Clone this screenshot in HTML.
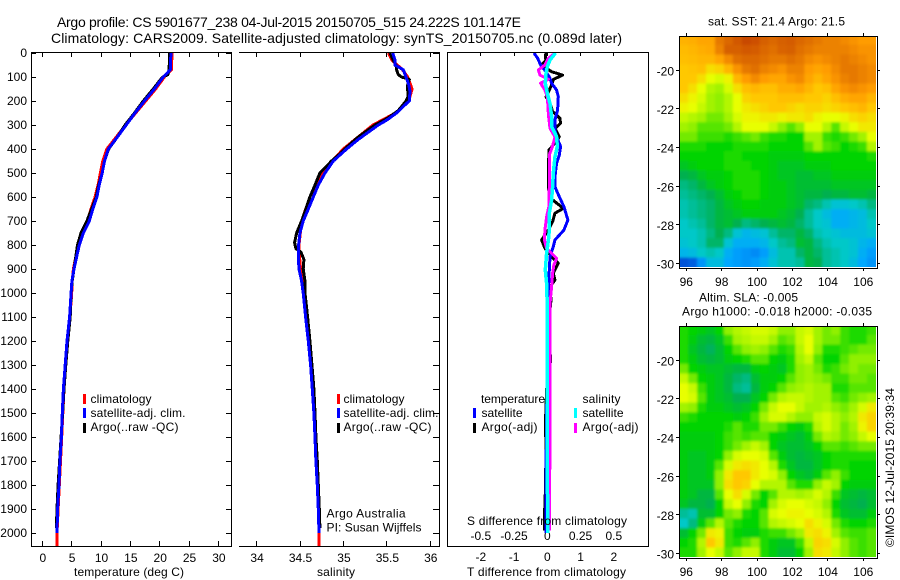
<!DOCTYPE html>
<html lang="en">
<head>
<meta charset="utf-8">
<title>Argo profile chart</title>
<style>
html,body{margin:0;padding:0;background:#fff;}
svg{display:block;}
text{font-family:"Liberation Sans",sans-serif;font-size:12px;fill:#000;}
.t14{font-size:14px;}
</style>
</head>
<body>
<svg id="chart" xmlns="http://www.w3.org/2000/svg" width="900" height="580" viewBox="0 0 900 580">
<defs>
<clipPath id="clipA"><rect x="32" y="53" width="199" height="493"/></clipPath>
<clipPath id="clipB"><rect x="239" y="53" width="200" height="493"/></clipPath>
<clipPath id="clipC"><rect x="448" y="53" width="200" height="493"/></clipPath>
<clipPath id="clipM1"><rect x="680" y="36" width="196" height="231"/></clipPath>
<clipPath id="clipM2"><rect x="680" y="326" width="196" height="231"/></clipPath>
<filter id="soft" x="-5%" y="-5%" width="110%" height="110%"><feGaussianBlur stdDeviation="1.2"/></filter>
</defs>
<g id="layer"></g>
<text class="t14" x="57" y="27" textLength="464" lengthAdjust="spacing">Argo profile: CS 5901677_238 04-Jul-2015 20150705_515 24.222S 101.147E</text>
<text class="t14" x="51" y="43" textLength="571" lengthAdjust="spacing">Climatology: CARS2009. Satellite-adjusted climatology: synTS_20150705.nc (0.089d later)</text>
<text x="74" y="576" textLength="110" lengthAdjust="spacing">temperature (deg C)</text>
<text x="317" y="576" textLength="38" lengthAdjust="spacing">salinity</text>
<text x="467" y="576" textLength="159" lengthAdjust="spacing">T difference from climatology</text>
<text x="467" y="525" textLength="160" lengthAdjust="spacing">S difference from climatology</text>

<g>
<rect x="83" y="394" width="3" height="10" fill="#ff0000"/>
<text x="90.5" y="403" textLength="61" lengthAdjust="spacing">climatology</text>
<rect x="83" y="408" width="3" height="10" fill="#0000ff"/>
<text x="90.5" y="417" textLength="95" lengthAdjust="spacing">satellite-adj. clim.</text>
<rect x="83" y="423" width="3" height="10" fill="#000"/>
<text x="90.5" y="431" textLength="88" lengthAdjust="spacing">Argo(..raw -QC)</text>
</g>
<g>
<rect x="337" y="394" width="3" height="10" fill="#ff0000"/>
<text x="343.5" y="403" textLength="61" lengthAdjust="spacing">climatology</text>
<rect x="337" y="408" width="3" height="10" fill="#0000ff"/>
<text x="343.5" y="417" textLength="95" lengthAdjust="spacing">satellite-adj. clim.</text>
<rect x="337" y="423" width="3" height="10" fill="#000"/>
<text x="343.5" y="431" textLength="88" lengthAdjust="spacing">Argo(..raw -QC)</text>
</g>
<text x="326.5" y="517.5" textLength="79" lengthAdjust="spacing">Argo Australia</text>
<text x="326.5" y="531.5" textLength="95" lengthAdjust="spacing">PI: Susan Wijffels</text>

<g>
<text x="481" y="403" textLength="64" lengthAdjust="spacing">temperature</text>
<rect x="473" y="408" width="3" height="10" fill="#0000ff"/>
<text x="481.5" y="417" textLength="41" lengthAdjust="spacing">satellite</text>
<rect x="473" y="423" width="3" height="10" fill="#000"/>
<text x="481.5" y="431" textLength="56" lengthAdjust="spacing">Argo(-adj)</text>
<text x="582.5" y="403" textLength="38" lengthAdjust="spacing">salinity</text>
<rect x="574" y="408" width="3" height="10" fill="#00ffff"/>
<text x="582.5" y="417" textLength="41" lengthAdjust="spacing">satellite</text>
<rect x="574" y="423" width="3" height="10" fill="#ff00ff"/>
<text x="582.5" y="431" textLength="56" lengthAdjust="spacing">Argo(-adj)</text>
</g>

<text x="708" y="25.5" textLength="137" lengthAdjust="spacing">sat. SST: 21.4 Argo: 21.5</text>
<text x="699" y="301.5" textLength="99" lengthAdjust="spacing">Altim. SLA: -0.005</text>
<text x="682" y="315.5" textLength="190" lengthAdjust="spacing">Argo h1000: -0.018 h2000: -0.035</text>
<text transform="translate(894 547) rotate(-90)" textLength="159" lengthAdjust="spacing">©IMOS 12-Jul-2015 20:39:34</text>
</svg>

<script>
// ---- axis tick data ----
const depthTicks = [0,100,200,300,400,500,600,700,800,900,1000,1100,1200,1300,1400,1500,1600,1700,1800,1900,2000];
const tempTicks = [0,5,10,15,20,25,30];
const salTicks = [34,34.5,35,35.5,36];
const salTickLabels = ["34","34.5","35","35.5","36"];
const tDiffTicks = [-2,-1,0,1,2];
const sDiffTicks = [-0.5,-0.25,0,0.25,0.5];
const sDiffTickLabels = ["-0.5","-0.25","0","0.25","0.5"];
const lonTicks = [96,98,100,102,104,106];
const latTicks = [-20,-22,-24,-26,-28,-30];

// ---- temperature profiles ----
const tempClimDepth = [0,70,100,150,200,250,300,350,400,450,500,550,600,650,700,750,800,850,900,950,1000,1100,1200,1300,1400,1500,1600,1700,1800,1900,2000,2055];
const tempClim = [22.1,22.0,20.8,19.3,17.6,15.9,14.2,12.6,11,10.3,9.9,9.5,9,8.3,7.7,7,6.2,5.7,5.3,5.1,5,4.7,4.3,4,3.7,3.5,3.3,3.1,2.9,2.7,2.5,2.5];
const tempArgoDepth = [0,70,90,100,150,200,250,300,350,400,450,500,550,600,650,700,750,800,850,900,950,1000,1100,1200,1300,1400,1500,1600,1700,1800,1900,1980];
const tempArgo = [21.7,21.6,21.4,20.5,18.9,17.2,15.7,14.1,12.8,11.3,10.6,10.2,9.6,9.2,8.4,7.6,6.6,6.0,5.7,5.4,5.1,4.9,4.75,4.35,4.0,3.7,3.45,3.2,2.95,2.7,2.5,2.4];
const tempSatDepth = [0,70,100,150,200,250,300,350,400,450,500,550,600,650,700,750,800,850,900,950,1000,1100,1200,1300,1400,1500,1600,1700,1800,1900,2000];
const tempSat = [21.9,21.8,20.6,19.1,17.4,15.8,14.3,12.8,11.25,10.6,10.2,9.7,9.3,8.6,8.0,7.0,6.3,5.85,5.4,5.05,4.9,4.65,4.2,3.9,3.6,3.4,3.25,3,2.85,2.6,2.5];

// ---- salinity profiles ----
const salClimDepth = [0,30,70,100,150,200,250,300,400,500,600,700,800,880,950,1000,1100,1200,1300,1400,1500,1600,1700,1800,1900,2000,2055];
const salClim = [35.516,35.56,35.68,35.74,35.79,35.75,35.6,35.34,34.998,34.75,34.614,34.518,34.488,34.5,34.537,34.55,34.575,34.6,34.63,34.65,34.665,34.68,34.695,34.705,34.715,34.72,34.72];
const salArgoDepth = [0,30,50,70,90,100,110,140,180,200,240,270,300,320,350,380,420,450,500,550,600,650,700,750,790,815,830,860,900,950,1000,1100,1200,1300,1400,1500,1600,1700,1800,1900,1980];
const salArgo = [35.535,35.574,35.605,35.612,35.631,35.67,35.758,35.735,35.747,35.72,35.631,35.516,35.363,35.286,35.171,35.075,34.96,34.864,34.729,34.672,34.614,34.568,34.518,34.461,34.438,34.453,34.511,34.545,34.537,34.557,34.557,34.587,34.614,34.637,34.66,34.672,34.683,34.699,34.71,34.722,34.729];
const salSatDepth = [0,30,50,70,100,130,160,200,220,250,280,300,330,360,400,450,500,550,600,650,700,750,800,850,900,950,1000,1100,1200,1300,1400,1500,1600,1700,1800,1900,2000];
const salSat = [35.566,35.593,35.593,35.689,35.72,35.75,35.766,35.758,35.697,35.612,35.497,35.401,35.286,35.171,35.036,34.883,34.787,34.71,34.653,34.595,34.537,34.499,34.484,34.48,34.488,34.518,34.537,34.564,34.595,34.622,34.641,34.66,34.672,34.683,34.699,34.71,34.718];

// ---- difference profiles ----
const tDiffSatDepth = [0,22,50,78,105,126,154,182,238,279,321,349,390,425,460,501,557,599,640,696,738,779,807,849,904,974,1057,1300,1600,2000];
const tDiffSat = [-0.4,-0.29,-0.2,-0.04,0.08,0.13,0.28,0.33,0.31,0.23,0.23,0.28,0.4,0.36,0.28,0.24,0.23,0.36,0.5,0.62,0.5,0.23,0.18,0.08,0.06,0.04,0,0,-0.03,-0.04];
const tDiffArgoDepth = [0,15,29,50,78,92,110,133,154,182,210,244,272,293,314,349,376,404,501,557,600,647,668,703,738,779,814,849,876,918,946,974,1029,1071,1290,1400,1560,1620,1800,1950,1990];
const tDiffArgo = [-0.04,-0.06,-0.04,-0.17,0.13,0.46,0.18,0.13,0.06,-0.04,0.08,0.16,0.38,0.4,0.23,0.36,0.23,0.05,0.03,0.04,0.05,0.48,0.23,0.16,0.03,-0.17,-0.07,0.13,0.33,0.18,0.23,0.08,0.11,0.08,0.09,-0.02,-0.06,-0.04,-0.05,-0.09,-0.08];
const sDiffArgoDepth = [0,22,50,71,92,110,126,154,182,224,258,314,349,390,425,474,557,640,682,738,779,814,835,856,883,918,974,1043,1071,1300,1600,1990];
const sDiffArgo = [0.058,0.008,-0.018,-0.068,-0.055,0.008,-0.05,-0.018,0,0.005,0.008,0.02,0.058,0.038,0.015,0.015,0.015,0.012,-0.005,-0.018,-0.022,-0.005,0.032,0.07,0.05,0.04,0.032,0.02,0.02,0.02,0.02,0.015];
const sDiffSatDepth = [0,29,57,85,126,168,210,265,307,349,390,432,501,557,612,668,738,779,835,904,960,1057,1500,2000];
const sDiffSat = [0.062,0.02,0,-0.01,-0.015,0,0.02,0.032,0.032,0.07,0.075,0.058,0.045,0.04,0.032,0.015,0.015,0.008,-0.005,-0.015,-0.005,0,0,0.002];

// ---- heatmap colour levels (rows north to south, columns west to east) ----
const sstLevels = [
[8.5,8.6,8.8,8.8,9.8,10.2,10.6,11,10.8,10.4,10.2,10.4,10.5,10.2,10,9.8,9.6,9.6,9.4,9.2,9,9],
[8.3,8.4,8.6,8.7,9.6,10.4,10.4,10.6,10.5,10.2,10,10.3,10.4,10,9.8,9.6,9.6,9.6,9.6,9.4,9.2,9.2],
[8.2,8.3,8.4,8.4,8.8,9.4,10,10.2,10.2,10,9.8,9.8,10,9.8,9.4,9.2,9.4,9.6,9.8,9.6,9.4,9.2],
[8,8.1,8.2,7.6,7.8,8.4,9.2,9.8,10,9.6,9.4,9.2,9.6,9.6,9,8.8,9,9.4,9.8,9.8,9.6,9.4],
[8,8,7.6,7,6.8,7.2,8.4,9,9.4,9,8.8,8.8,9.2,9.4,8.8,8.4,8.8,9.2,9.6,9.8,9.6,9.4],
[8,7.6,7,6.4,6.2,6.8,7.6,8.2,8.4,8.2,8.2,8.6,8.6,8.8,8.4,8,8.2,8.8,9.2,9.4,9.2,9],
[7.6,7.2,6.8,6.2,6,6.4,7,7.8,8,8,8,8.2,8.2,8.2,8,8,7.8,8.2,8.6,8.8,8.8,8.4],
[7.2,7,6.6,6.2,6,6.4,7,7.4,7.6,7.8,8,8,7.8,7.6,7.8,7.8,7.6,7.8,8,8.2,8.4,8],
[6.6,6.4,6.2,5.8,5.8,6.2,6.8,7.2,7.2,7.4,7.4,7.2,7.4,7.4,7.6,7.2,7,7,7.2,7.6,7.8,7.6],
[6.2,6,5.6,5.6,5.6,5.8,6.4,7,7,7,6.6,6,5.6,6,7,7,6.4,5.6,6.6,7,7.4,7.4],
[5.8,5.8,5.4,5.4,5.4,5.2,5.4,5.6,5.8,5.4,5.2,5.2,5,5,6.2,6.2,5.4,5.2,5.4,5.8,6.2,7],
[5.2,5.2,5.2,5,5,5,5.2,5.2,5.2,5.2,5,5,5,5,5.6,6.2,5.6,5.4,5,5.2,5.4,6.4],
[5,5,5,5,5,5.2,5.2,5,5,5,4.8,4.8,4.8,4.8,5,5,5,5,5,5,5,5.2],
[4.6,4.8,5,5,5,5.2,5.2,5.2,5,5,4.8,4.6,4.6,4.6,4.8,4.8,4.8,5,5,5,5,5],
[4,4.2,4.6,4.8,4.8,5,5.2,5.2,5.2,5,4.8,4.6,4.6,4.4,4.4,4.6,4.6,4.8,4.8,4.8,4.8,4.8],
[3.6,3.8,4.2,4.6,4.8,5,5.2,5.2,5.2,5,4.8,4.8,4.6,4.4,4.4,4.4,4.4,4.6,4.6,4.6,4.6,4.6],
[3.4,3.6,3.8,4,4.4,4.8,5,5.2,5.2,5,4.8,4.8,4.6,4.4,4.2,4.2,4,4.2,4.2,4.4,4.4,4.2],
[3.2,3.4,3.6,3.8,4.2,4.6,4.8,5,5,4.8,4.8,4.8,4.6,4.4,3.8,3.6,3.2,2.8,2.8,3,3.2,3.6],
[3.2,3.4,3.6,3.8,4.2,4.4,4.6,4.8,4.8,4.8,4.8,4.6,4.4,4,3.4,3,2.6,2.2,2.2,2.4,2.6,3.2],
[3,3.2,3.4,3.8,4.2,4.4,4,3.6,3.8,4,4.2,4.4,4.2,3.8,3.4,3,2.8,2.2,2.2,2.4,2.6,3],
[3,3,3.2,3.6,4,3.6,2.8,2.4,2.6,2.8,3.4,3.8,3.8,4.2,3.8,3.2,3,2.8,2.6,2.6,2.6,2.8],
[2.8,3,3.2,3.8,3.8,2.8,2.2,2.2,2.2,2.4,3,3.4,3.6,4.4,4.2,3.6,3.2,3,3,2.8,2.4,2.2],
[2.4,2.6,3,3.2,3,2.2,1.8,1.6,1.4,1.8,2.6,3.2,3.2,3.8,4.2,3.8,3.4,3.2,3,2.8,2.2,1.8],
[0.4,0.6,1.6,2.6,2.6,2,1.8,1.6,1.8,2.2,2.8,3.2,3.2,3.4,4.2,4,3.4,3.2,3,2.6,2,1.6]
];
const slaLevels = [
[5.2,5,4.8,4.6,5,6,6.4,6.6,6.8,6.8,6.6,6,6,6.6,6.8,6.2,5.8,6,5.4,5.2,5.2,5.4],
[5.2,4.8,4.4,4.2,4.6,5.4,6.2,6.4,6.6,6.6,6.2,5.6,5.8,6.6,7,6.2,5.8,5.8,5.4,5.2,5.2,5.6],
[5.2,4.6,4.2,3.9,4.4,5,5.6,6,6.2,6,5.6,5.2,5.4,6.4,7,6,5.2,5.2,5.4,5.6,5.8,5.8],
[5.2,4.8,4.4,4.2,4.4,4.8,5,5.2,5.6,5.6,5,4.8,5.2,6.2,6.6,5.6,5,5,5.6,6,6,6],
[5.8,5,4.8,4.6,4.6,4.4,4.2,4.2,4.8,5,4.8,4.6,5.2,6,6.2,5.8,5.2,5.4,5.8,6,5.8,5.8],
[6.6,5.8,5,4.8,4.6,4.2,3.8,3.6,4.4,4.8,4.8,5,5.6,6,6.2,6,5.8,5.4,5.4,5.8,5.8,5.6],
[7,6.6,5.4,4.8,4.6,4.2,3.6,3.4,4.2,4.8,5,5.6,6,6.2,6.4,6.2,6.2,5.2,5.2,5.6,5.6,5.6],
[7,6.8,5.6,4.8,4.6,4.4,4,4,4.6,5,5.8,6.4,6.6,6.6,6.4,6.2,6.2,5.6,5.4,5.8,6,6.2],
[6.2,6,5.2,4.8,4.8,4.6,4.4,4.6,5,5.8,6.6,7,7,6.6,6.2,6.2,6.4,6,5.8,6.2,6.8,7.4],
[5.4,5.2,5,5,5,5,4.8,5,5.4,6.2,6.8,6.8,6.4,6,6,6.6,6.8,6.4,6,6.4,7.4,7.8],
[5,5,5,5,5,5.2,5.6,5.2,5.2,5.8,5.8,5.4,5,4.8,5.2,6.4,6.8,6.4,5.8,6.2,7.2,7.8],
[4.8,4.8,4.8,4.8,5,5.4,5.6,5.4,5.6,5.6,5,4.8,4.6,4.4,4.8,5.8,6.4,6.2,5.8,6,6.6,7],
[4.8,4.8,4.8,4.8,5,5.4,5.8,6.2,6.6,6.2,5,4.6,4.4,4.4,4.6,5,5.6,5.6,5.4,5.6,5.8,5.8],
[4.8,4.6,4.6,4.8,5,6,6.8,7,7,6.8,5.6,4.8,4.4,4.2,4.4,4.6,5,5.2,5.2,5.2,5.2,5.2],
[4.8,4.6,4.6,4.8,5.6,6.8,7.4,7.6,7.4,7,6.4,5.2,4.6,4.2,4.2,4.6,5,5.2,5.2,5,5,5],
[4.8,4.6,4.6,4.8,6,7.4,8,8,7.4,7,6.8,6,5,4.6,4.4,4.8,5.6,6,5.4,5,5,5],
[4.8,4.6,4.6,4.6,6,7.6,8,7.8,7,6.4,6.4,6.4,5.6,5.2,5.2,6,6.6,6.2,5,4.8,4.8,4.8],
[4.8,4.6,4.2,4.2,5.6,7,7.6,6.8,5.8,5,5.6,6.4,6.4,6.2,6.4,6.8,6.4,5.4,4.6,4.4,4.2,4.4],
[4.6,4.2,4.2,4,5,6.6,7,6,5.2,5,6.2,6.8,7,7,6.8,6.6,6,5,4.4,4.2,4,4.4],
[3.4,3.2,4.4,4.4,5,5.8,6,5.2,5,5.6,6.8,7,7.2,7.2,7,6.8,6.4,5.2,4.6,4.4,4.4,4.8],
[3,3.6,4.8,5.6,6.4,5.6,5.2,5,5,5.6,6.4,6.6,6.8,7,7.6,7.2,6.8,5.8,5.2,5,5,5.2],
[4.4,5,5.8,7.4,7.2,5.4,5,4.8,4.8,5.2,5.4,5.4,5.8,6.2,7.4,7.6,7.2,6.2,5.6,5.4,5.4,5.6],
[5,5.2,6.4,8,7.4,5.4,5.2,5.6,6,5.2,4.8,4.6,4.6,5.4,6.6,7.8,7.6,6.8,6,5.6,5.4,5.6],
[5.2,5.2,6.2,7,6.6,5.6,6,6.6,6.6,5.2,4.8,4.4,4.4,5,6.2,7.6,7.4,6.6,6,5.6,5.4,5.6]
];
const colourStops = ["#0038c8","#0078f0","#00a8ff","#00c8c8","#00b050","#00d400","#90f000","#e8ff00","#ffc800","#ff9c00","#e07000","#c84800"];

// ---- axis functions ----
function depthY(d){ return 53 + 0.24 * d; }
function tempX(t){ return 42.3 + 5.87 * t; }
function salX(s){ return 256.6 + 86.85 * (s - 34); }
function tDiffX(t){ return 547.3 + 33.25 * t; }
function sDiffX(s){ return 547.3 + 133 * s; }
function lonX(lon){ return 686.3 + 17.7 * (lon - 96); }
function latY(lat, top){ return top + 34.3 + 19.33 * (-20 - lat); }

const NS = "http://www.w3.org/2000/svg";
const layer = document.getElementById("layer");

function mk(tag, parent, attrs){
  const el = document.createElementNS(NS, tag);
  for (const k in attrs) el.setAttribute(k, attrs[k]);
  parent.appendChild(el);
  return el;
}
function seg(parent, x1, y1, x2, y2, label){
  const el = mk("rect", parent, {
    x: Math.floor(Math.min(x1, x2)), y: Math.floor(Math.min(y1, y2)),
    width: Math.max(1, Math.round(Math.abs(x2 - x1))), height: Math.max(1, Math.round(Math.abs(y2 - y1))),
    fill: "#000", "shape-rendering": "crispEdges"
  });
  
  
  return el;
}
function label(parent, x, y, str, anchor, name){
  const el = mk("text", parent, { x: x, y: y, "text-anchor": anchor });
  el.textContent = str;
  
  
  return el;
}
function series(parent, depths, values, xf, colour, width, name){
  const pts = depths.map(function(d, i){ return xf(values[i]).toFixed(1) + "," + depthY(d).toFixed(1); }).join(" ");
  const el = mk("polyline", parent, {
    points: pts, fill: "none", stroke: colour, "stroke-width": width,
    "stroke-linejoin": "round", "shape-rendering": "crispEdges"
  });
  
  
  return el;
}

// ---- profile panel frames ----
function frame(x0, x1, withLeft, name){
  const g = mk("g", layer, {});
  
  
  seg(g, x0, 52, x1 + 1, 53, 'axis-top-line');
  seg(g, x0, 546, x1 + 1, 547, 'axis-bottom-line');
  seg(g, x1, 52, x1 + 1, 547, 'axis-right-line');
  if (withLeft) seg(g, x0, 52, x0 + 1, 547, 'axis-left-line');
  return g;
}
const frameA = frame(31, 231, true, 'temperature-axes');
const frameB = frame(239, 439, false, 'salinity-axes');
const frameC = frame(447, 648, true, 'difference-axes');

depthTicks.forEach(function(d){
  const y = depthY(d);
  seg(frameA, 31, y, 36, y + 1, 'depth-tick');
  seg(frameA, 226, y, 231, y + 1, 'depth-tick');
  seg(frameB, 433, y, 439, y + 1, 'depth-tick');
  label(frameA, 27, y + 4, String(d), "end", 'depth-tick-label');
});
tempTicks.forEach(function(t){
  const x = tempX(t);
  seg(frameA, x, 52, x + 1, 57, 'temperature-tick');
  seg(frameA, x, 541, x + 1, 546, 'temperature-tick');
  label(frameA, x + 0.5, 562, String(t), "middle", 'temperature-tick-label');
});
salTicks.forEach(function(s, i){
  const x = salX(s);
  seg(frameB, x, 52, x + 1, 57, 'salinity-tick');
  seg(frameB, x, 541, x + 1, 546, 'salinity-tick');
  label(frameB, x + 0.5, 562, salTickLabels[i], "middle", 'salinity-tick-label');
});
tDiffTicks.forEach(function(t){
  const x = tDiffX(t);
  seg(frameC, x, 52, x + 1, 56, 'difference-tick');
  label(frameC, x, 561, String(t), "middle", 't-difference-tick-label');
});
sDiffTicks.forEach(function(s, i){
  label(frameC, sDiffX(s), 540, sDiffTickLabels[i], "middle", 's-difference-tick-label');
});

// ---- profile series ----
const plotA = mk("g", layer, { "clip-path": "url(#clipA)" });


series(plotA, tempClimDepth, tempClim, tempX, "#ff0000", 3, 'temperature-climatology-line');
series(plotA, tempArgoDepth, tempArgo, tempX, "#000000", 3, 'temperature-argo-line');
series(plotA, tempSatDepth, tempSat, tempX, "#0000ff", 3, 'temperature-satellite-line');

const plotB = mk("g", layer, { "clip-path": "url(#clipB)" });


series(plotB, salClimDepth, salClim, salX, "#ff0000", 3, 'salinity-climatology-line');
series(plotB, salArgoDepth, salArgo, salX, "#000000", 3, 'salinity-argo-line');
series(plotB, salSatDepth, salSat, salX, "#0000ff", 3, 'salinity-satellite-line');

const plotC = mk("g", layer, { "clip-path": "url(#clipC)" });


series(plotC, tDiffArgoDepth, tDiffArgo, tDiffX, "#000000", 3, 't-difference-argo-line');
series(plotC, tDiffSatDepth, tDiffSat, tDiffX, "#0000ff", 3, 't-difference-satellite-line');
series(plotC, sDiffArgoDepth, sDiffArgo, sDiffX, "#ff00ff", 3, 's-difference-argo-line');
series(plotC, sDiffSatDepth, sDiffSat, sDiffX, "#00ffff", 3.5, 's-difference-satellite-line');

// ---- heatmaps ----
function levelColour(v){
  const c = Math.max(0, Math.min(colourStops.length - 1, v));
  const i = Math.min(colourStops.length - 2, Math.floor(c));
  const f = c - i;
  const a = colourStops[i], b = colourStops[i + 1];
  const mix = function(p){
    const pa = parseInt(a.substr(p, 2), 16), pb = parseInt(b.substr(p, 2), 16);
    return Math.round(pa + (pb - pa) * f);
  };
  return "rgb(" + mix(1) + "," + mix(3) + "," + mix(5) + ")";
}
function mapPanel(levels, top, clipId, name){
  const g = mk("g", layer, {});
  
  
  const clip = mk("g", g, { "clip-path": "url(#" + clipId + ")" });
  const cells = mk("g", clip, { filter: "url(#soft)" });
  const lonStart = 95.6, latStart = -18.2, dLon = 0.505, dLat = 0.5;
  levels.forEach(function(row, r){
    row.forEach(function(v, c){
      const x0 = lonX(lonStart + c * dLon), x1 = lonX(lonStart + (c + 1) * dLon);
      const y0 = latY(latStart - r * dLat, top), y1 = latY(latStart - (r + 1) * dLat, top);
      const overX = c === row.length - 1 ? 8 : 0.4;
      const overY = r === levels.length - 1 ? 8 : 0.4;
      const cell = mk("rect", cells, {
        x: (c === 0 ? x0 - 8 : x0).toFixed(2), y: (r === 0 ? y0 - 8 : y0).toFixed(2),
        width: (x1 - x0 + overX + (c === 0 ? 8 : 0)).toFixed(2), height: (y1 - y0 + overY + (r === 0 ? 8 : 0)).toFixed(2),
        fill: levelColour(v)
      });
      
      
    });
  });
  const t = Math.round(top), b = t + 232;
  seg(g, 679, t, 878, t + 1, 'map-top-line');
  seg(g, 679, b, 878, b + 1, 'map-bottom-line');
  seg(g, 679, t, 680, b + 1, 'map-left-line');
  seg(g, 877, t, 878, b + 1, 'map-right-line');
  lonTicks.forEach(function(lon){
    const x = lonX(lon);
    seg(g, x, t - 3, x + 1, t, 'longitude-tick');
    seg(g, x, b + 1, x + 1, b + 3, 'longitude-tick');
    label(g, x, b + 18, String(lon), "middle", 'longitude-tick-label');
  });
  latTicks.forEach(function(lat){
    const y = latY(lat, t);
    seg(g, 676, y, 679, y + 1, 'latitude-tick');
    seg(g, 878, y, 880, y + 1, 'latitude-tick');
    label(g, 674, y + 5, String(lat), "end", 'latitude-tick-label');
  });
}
mapPanel(sstLevels, 35.7, "clipM1", 'sst-map');
mapPanel(slaLevels, 325.7, "clipM2", 'sla-map');
</script>
</body>
</html>
